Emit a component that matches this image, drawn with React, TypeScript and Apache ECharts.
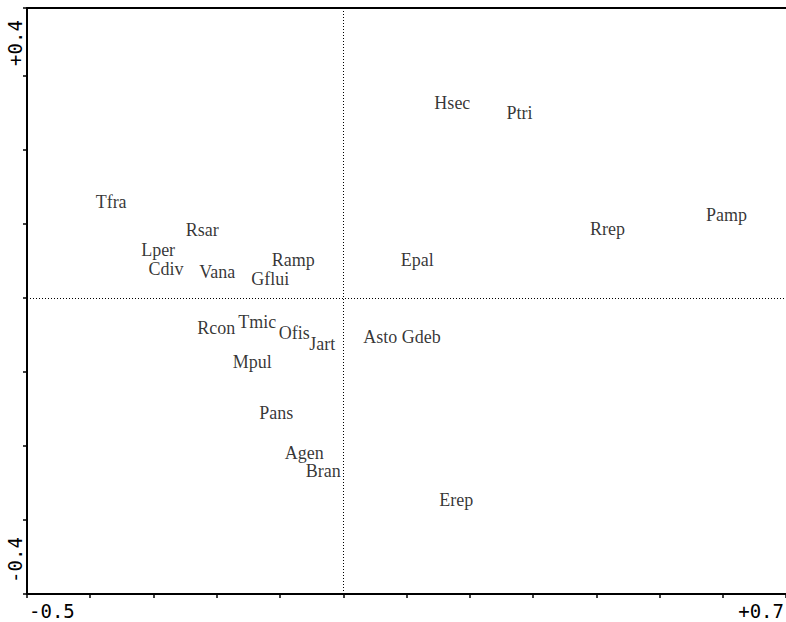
import React, { useEffect, useRef } from "react";
import * as echarts from "echarts";

const speciesNames = [
  "Hsec", "Ptri", "Tfra", "Rsar", "Rrep", "Pamp", "Lper", "Cdiv", "Vana", "Ramp", "Gflui", "Epal",
  "Rcon", "Tmic", "Ofis", "Jart", "Asto", "Gdeb", "Mpul", "Pans", "Agen", "Bran", "Erep",
];
const axis1Scores = [
  0.1725, 0.2785, -0.367, -0.223, 0.4177, 0.606, -0.2927, -0.2801, -0.1994, -0.0791, -0.1155, 0.1171,
  -0.2009, -0.1361, -0.0775, -0.0332, 0.0585, 0.1234, -0.144, -0.106, -0.0617, -0.0316, 0.1788,
];
const axis2Scores = [
  0.2635, 0.25, 0.1297, 0.0919, 0.0932, 0.1122, 0.0649, 0.0392, 0.0351, 0.0514, 0.0257, 0.0514,
  -0.0405, -0.0324, -0.0473, -0.0622, -0.0527, -0.0527, -0.0865, -0.1554, -0.2095, -0.2338, -0.273,
];
const xRange = [-0.5, 0.7];
const yRange = [-0.4, 0.392];
const xLabels = ["-0.5", "+0.7"];
const yLabels = ["+0.4", "-0.4"];

export default function App() {
  const ref = useRef<HTMLDivElement>(null);
  useEffect(() => {
    if (!ref.current) return;
    const chart = echarts.init(ref.current, null, { renderer: "svg" });
    const data = speciesNames.map((n, i) => [axis1Scores[i], axis2Scores[i], n]);
    const monoFont = "DejaVu Sans Mono";
    chart.setOption({
      animation: false,
      backgroundColor: "#ffffff",
      grid: { left: 27, top: 8, right: 0, bottom: 28 },
      xAxis: [
        {
          type: "value",
          min: xRange[0],
          max: xRange[1],
          interval: 0.1,
          axisLine: { show: true, onZero: false, lineStyle: { color: "#000", width: 2 } },
          axisTick: { show: true, length: 4, lineStyle: { color: "#000", width: 1.5 } },
          axisLabel: { show: false },
          splitLine: { show: false },
        },
        {
          type: "value",
          position: "top",
          min: xRange[0],
          max: xRange[1],
          axisLine: { show: true, onZero: false, lineStyle: { color: "#000", width: 2 } },
          axisTick: { show: false },
          axisLabel: { show: false },
          splitLine: { show: false },
        },
      ],
      yAxis: {
        type: "value",
        min: yRange[0],
        max: yRange[1],
        interval: 0.1,
        axisLine: { show: true, onZero: false, lineStyle: { color: "#000", width: 2 } },
        axisTick: { show: true, length: 4, lineStyle: { color: "#000", width: 1.5 } },
        axisLabel: { show: false },
        splitLine: { show: false },
      },
      series: [
        {
          type: "scatter",
          data,
          symbolSize: 1,
          itemStyle: { color: "rgba(0,0,0,0)" },
          label: {
            show: true,
            position: "inside",
            formatter: (p: any) => p.data[2],
            color: "#000",
            fontFamily: "Liberation Serif",
            fontSize: 18,
          },
          markLine: {
            silent: true,
            symbol: "none",
            label: { show: false },
            lineStyle: { color: "#000", width: 1, type: [1, 2] },
            data: [{ xAxis: 0 }, { yAxis: 0 }],
          },
        },
      ],
      graphic: [
        {
          type: "text",
          left: 29,
          top: 601,
          style: { text: xLabels[0], font: `19px ${monoFont}`, fill: "#000" },
        },
        {
          type: "text",
          right: 2,
          top: 601,
          style: { text: xLabels[1], font: `19px ${monoFont}`, fill: "#000" },
        },
        {
          type: "text",
          x: 15,
          y: 43,
          rotation: Math.PI / 2,
          style: {
            text: yLabels[0],
            font: `19px ${monoFont}`,
            fill: "#000",
            align: "center",
            verticalAlign: "middle",
          },
        },
        {
          type: "text",
          x: 15,
          y: 560,
          rotation: Math.PI / 2,
          style: {
            text: yLabels[1],
            font: `19px ${monoFont}`,
            fill: "#000",
            align: "center",
            verticalAlign: "middle",
          },
        },
      ],
    });
    return () => chart.dispose();
  }, []);
  return <div ref={ref} style={{ width: 786, height: 622, position: "absolute", left: 0, top: 0 }} />;
}
